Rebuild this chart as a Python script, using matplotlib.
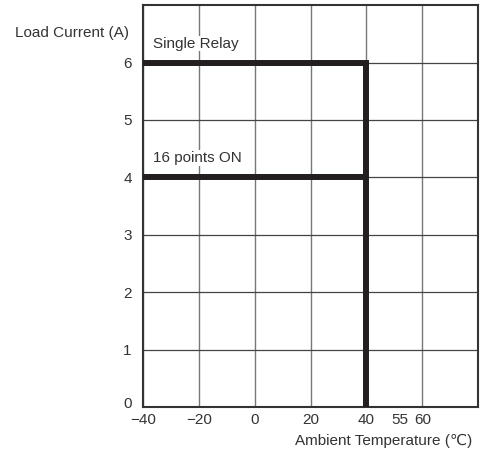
import matplotlib
matplotlib.use("Agg")
import matplotlib.pyplot as plt
import matplotlib.transforms as mtransforms

plt.rcParams["font.family"] = ["Liberation Sans", "DejaVu Sans"]

# Derating curves
relay_temp = [-40, 40, 40]
relay_current = [6, 6, 0]
points_temp = [-40, 40]
points_current = [4, 4]

x_ticks = [-40, -20, 0, 20, 40, 55, 60]
x_labels = ["\u221240", "\u221220", "0", "20", "40", "55", "60"]
x_grid = [-40, -20, 0, 20, 40, 60, 80]
y_ticks = [0, 1, 2, 3, 4, 5, 6]

fig = plt.figure(figsize=(4.93, 4.62), dpi=100)
ax = fig.add_axes([0.290, 0.119, 0.680, 0.870])

for x in x_grid:
    ax.axvline(x, color="#777777", linewidth=1.0, zorder=1)
for y in y_ticks:
    ax.axhline(y, color="#444444", linewidth=0.9, zorder=1)

ax.plot(relay_temp, relay_current, color="#231f20", linewidth=4.3,
        solid_joinstyle="miter", solid_capstyle="butt", zorder=3)
ax.plot(points_temp, points_current, color="#231f20", linewidth=4.3,
        solid_capstyle="butt", zorder=3)

ax.text(-36.5, 6.33, "Single Relay", fontsize=11, color="#333333",
        va="center", ha="left",
        bbox=dict(facecolor="white", edgecolor="none", pad=0.5))
ax.text(-36.5, 4.34, "16 points ON", fontsize=11, color="#333333",
        va="center", ha="left",
        bbox=dict(facecolor="white", edgecolor="none", pad=0.5))

ax.set_xlim(-40, 80)
ax.set_ylim(0, 7)
ax.set_xticks(x_ticks)
ax.set_xticklabels(x_labels)
ax.set_yticks(y_ticks)
ax.tick_params(length=0, labelsize=11, labelcolor="#333333")
ax.tick_params(axis="x", pad=4.5)
ax.tick_params(axis="y", pad=8)
ax.get_xticklabels()[5].set_horizontalalignment("right")
# lift the y "0" a little, as in the original
zero = ax.get_yticklabels()[0]
zero.set_transform(zero.get_transform() +
                   mtransforms.ScaledTranslation(0, 3 / 72, fig.dpi_scale_trans))
for s in ax.spines.values():
    s.set_color("#333333")
    s.set_linewidth(1.5)

fig.text(0.030, 0.928, "Load Current (A)", fontsize=11, color="#333333",
         ha="left", va="center")
fig.text(0.958, 0.045, "Ambient Temperature (\u2103)", fontsize=11,
         color="#333333", ha="right", va="center")

fig.savefig("out.png", dpi=100)
